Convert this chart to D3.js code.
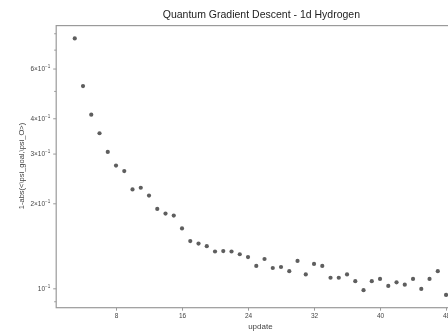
<!DOCTYPE html>
<html>
<head>
<meta charset="utf-8">
<script src="https://cdn.jsdelivr.net/npm/d3@7/dist/d3.min.js"></script>
<style>
  html, body { margin: 0; padding: 0; background: #fff; }
  svg { display: block; filter: blur(0.35px); }
  text { font-family: "Liberation Sans", Arial, sans-serif; }
</style>
</head>
<body>
<svg id="chart" width="448" height="331"></svg>
<script>
// ---- data ----
const updates = d3.range(3, 49); // 3..48
const values = [
  0.767, 0.520, 0.412, 0.354, 0.304, 0.272, 0.260, 0.224, 0.227, 0.213,
  0.191, 0.184, 0.181, 0.163, 0.147, 0.144, 0.141, 0.135, 0.1355, 0.135,
  0.132, 0.129, 0.120, 0.127, 0.118, 0.119, 0.115, 0.125, 0.112, 0.122,
  0.120, 0.109, 0.109, 0.112, 0.106, 0.0985, 0.106, 0.108, 0.102, 0.105,
  0.103, 0.108, 0.0995, 0.108, 0.115, 0.0948
];
const xTicks = [8, 16, 24, 32, 40, 48];
const yTicksLabeled = [
  {v: 0.6, m: "6", e: "−1"},
  {v: 0.4, m: "4", e: "−1"},
  {v: 0.3, m: "3", e: "−1"},
  {v: 0.2, m: "2", e: "−1"},
  {v: 0.1, m: "",  e: "−1"}
];
const yTicksMinor = [0.09, 0.5, 0.7, 0.8];
const title = "Quantum Gradient Descent - 1d Hydrogen";
const xLabel = "update";
const yLabel = "1-abs(<\\psi_goal,\\psi_O>)";

(function () {
// ---- layout ----
const svg = d3.select("#chart");
const pLeft = 56.2, pRight = 464.6, pTop = 25.6, pBottom = 307.7;

const xMin = d3.min(updates), xMax = d3.max(updates);
const xm = (xMax - xMin) * 0.05;
const x = d3.scaleLinear().domain([xMin - xm, xMax + xm]).range([pLeft, pRight]);

const lMin = Math.log10(d3.min(values)), lMax = Math.log10(d3.max(values));
const lm = (lMax - lMin) * 0.05;
const y = d3.scaleLog().domain([Math.pow(10, lMin - lm), Math.pow(10, lMax + lm)]).range([pBottom, pTop]);

const axisColor = "#9a9a9a";
const textColor = "#444";

// frame
svg.append("rect")
  .attr("x", pLeft).attr("y", pTop)
  .attr("width", pRight - pLeft).attr("height", pBottom - pTop)
  .attr("fill", "none").attr("stroke", axisColor).attr("stroke-width", 1.2);

// x axis
const xAxis = d3.axisBottom(x).tickValues(xTicks).tickSize(3).tickPadding(3)
  .tickFormat(d3.format("d"));
const gx = svg.append("g").attr("transform", `translate(0,${pBottom})`).call(xAxis);
gx.select(".domain").remove();
gx.selectAll(".tick line").attr("stroke", axisColor);
gx.selectAll(".tick text").attr("fill", textColor).style("font-size", "6.5px");

// y axis (labeled)
const yAxis = d3.axisLeft(y).tickValues(yTicksLabeled.map(d => d.v)).tickSize(3).tickPadding(3)
  .tickFormat(() => "");
const gy = svg.append("g").attr("transform", `translate(${pLeft},0)`).call(yAxis);
gy.select(".domain").remove();
gy.selectAll(".tick line").attr("stroke", axisColor);
gy.selectAll(".tick text").each(function(d) {
  const t = yTicksLabeled.find(k => k.v === d);
  const el = d3.select(this).attr("fill", textColor).style("font-size", "6.5px").text(null);
  el.append("tspan").text((t.m ? t.m + "×" : "") + "10");
  el.append("tspan").attr("dy", "-3").style("font-size", "4.5px").text(t.e);
});

// y minor ticks
const yAxisMinor = d3.axisLeft(y).tickValues(yTicksMinor).tickSize(2).tickFormat(() => "");
const gym = svg.append("g").attr("transform", `translate(${pLeft},0)`).call(yAxisMinor);
gym.select(".domain").remove();
gym.selectAll(".tick line").attr("stroke", axisColor);

// points
svg.append("g").selectAll("circle")
  .data(updates.map((u, i) => ({u, v: values[i]})))
  .join("circle")
  .attr("cx", d => x(d.u))
  .attr("cy", d => y(d.v))
  .attr("r", 2.1)
  .attr("fill", "#5e5e5e");

// title
svg.append("text")
  .attr("x", (pLeft + pRight) / 2 + 1).attr("y", 18)
  .attr("text-anchor", "middle")
  .attr("fill", "#222")
  .style("font-size", "10.5px")
  .text(title);

// x label
svg.append("text")
  .attr("x", (pLeft + pRight) / 2).attr("y", 329)
  .attr("text-anchor", "middle")
  .attr("fill", textColor)
  .style("font-size", "8px")
  .text(xLabel);

// y label
svg.append("text")
  .attr("transform", `translate(24,166) rotate(-90)`)
  .attr("text-anchor", "middle")
  .attr("fill", textColor)
  .style("font-size", "7.5px")
  .text(yLabel);
})();
</script>
</body>
</html>
